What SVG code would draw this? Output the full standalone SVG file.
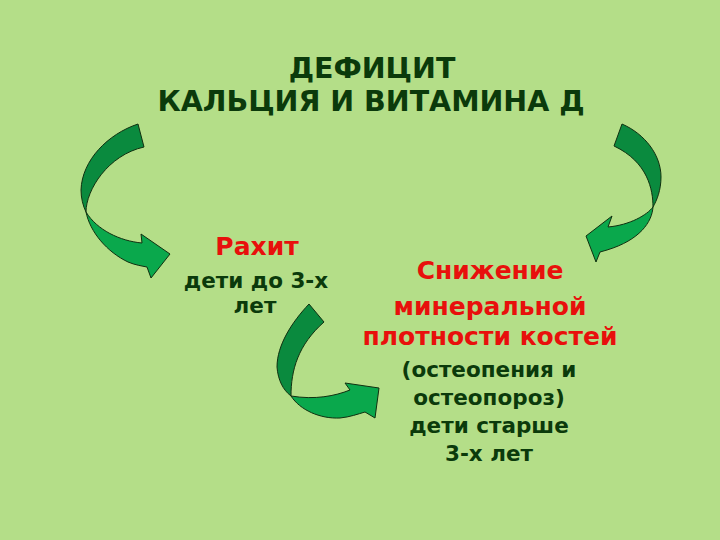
<svg xmlns="http://www.w3.org/2000/svg" width="720" height="540" viewBox="0 0 720 540">
<style>
.t{font-family:"DejaVu Sans","Liberation Sans",sans-serif;font-weight:bold;text-anchor:middle}
.title{font-size:28.5px;fill:#0b3a0b}
.red{font-size:25px;fill:#e8100c}
.dk{font-size:21.5px;fill:#0b3a0b}
.d{fill:#0a8a3e;stroke:#103010;stroke-width:1}
.l{fill:#0aa84c;stroke:#103010;stroke-width:1}
</style>
<rect width="720" height="540" fill="#b4de88"/>
<g id="title">
<text class="t title" x="372" y="78">ДЕФИЦИТ</text>
<text class="t title" x="371" y="111">КАЛЬЦИЯ И ВИТАМИНА Д</text>
</g>
<g id="rickets">
<text class="t red" x="257" y="255">Рахит</text>
<text class="t dk" x="256" y="288">дети до 3-х</text>
<text class="t dk" x="255" y="313">лет</text>
</g>
<g id="density">
<text class="t red" x="490" y="279">Снижение</text>
<text class="t red" x="490" y="315">минеральной</text>
<text class="t red" x="490" y="345">плотности костей</text>
<text class="t dk" x="489" y="377">(остеопения и</text>
<text class="t dk" x="489" y="405">остеопороз)</text>
<text class="t dk" x="489" y="433">дети старше</text>
<text class="t dk" x="489" y="461">3-х лет</text>
</g>
<g id="connectors">
<g id="arrow-left">
<path class="d" d="M138,124 C108,134 82,160 81,190 C81,198 83,206 86,212 C86,190 108,155 144,147 Z"/>
<path class="l" d="M86,212 C90,232 107,252 128,262 C135,265 142,266 147,267 L151,278 L170,254 L141,234 L142,243 C120,241 97,230 86,212 Z"/>
</g>
<g id="arrow-right">
<path class="d" d="M622,124 C645,134 661,155 661,177 C661,190 657,200 653,207 C653,190 648,162 614,146 Z"/>
<path class="l" d="M653,207 C652,222 640,240 607,250 L600,252 L596,262 L586,236 L612,216 L608,227 C630,225 647,215 653,207 Z"/>
</g>
<g id="arrow-middle">
<path class="d" d="M309,304 C292,322 277,345 277,367 C278,380 283,390 291,396 C291,370 298,345 324,322 Z"/>
<path class="l" d="M291,396 C300,410 320,419 340,418 C350,417 358,414 365,412 L375,418 L379,388 L345,383 L350,390 C335,396 315,400 291,396 Z"/>
</g>
</g>
</svg>
